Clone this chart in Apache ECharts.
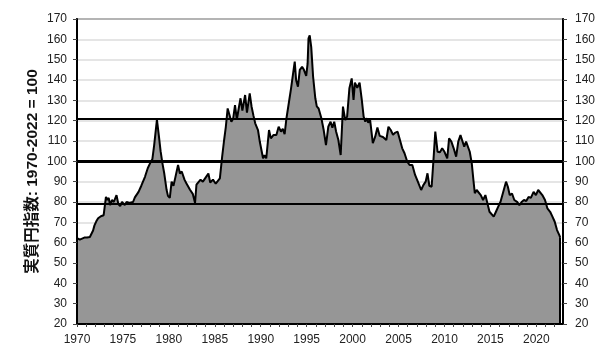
<!DOCTYPE html>
<html>
<head>
<meta charset="utf-8">
<script src="https://cdn.jsdelivr.net/npm/echarts@6/dist/echarts.min.js"></script>
<style>
html,body{margin:0;padding:0;background:#fff;}
#c{width:612px;height:359px;}
</style>
</head>
<body>
<div id="c"></div>
<script>
// decimal years
const years = [
1970.0,1970.3,1970.5,1970.8,1971.1,1971.4,1971.6,1971.75,1971.9,1972.1,1972.3,1972.6,1972.9,1973.05,1973.15,1973.3,1973.45,1973.6,1973.8,1974.0,
1974.3,1974.5,1974.7,1974.9,1975.2,1975.4,1975.7,1975.9,1976.1,1976.3,1976.7,1977.0,1977.4,1977.7,1978.0,1978.2,1978.4,1978.7,1978.9,1979.1,
1979.3,1979.5,1979.75,1979.9,1980.1,1980.3,1980.5,1980.7,1981.0,1981.2,1981.4,1981.7,1981.9,1982.1,1982.3,1982.6,1982.85,1983.0,1983.2,1983.45,
1983.7,1984.0,1984.3,1984.5,1984.8,1985.1,1985.3,1985.55,1985.8,1986.0,1986.2,1986.4,1986.6,1986.8,1987.0,1987.2,1987.4,1987.6,1987.8,1988.0,
1988.3,1988.5,1988.8,1989.0,1989.2,1989.4,1989.7,1989.9,1990.25,1990.4,1990.6,1990.9,1991.1,1991.4,1991.7,1991.95,1992.2,1992.4,1992.6,1992.8,
1993.0,1993.3,1993.5,1993.7,1993.85,1994.05,1994.25,1994.5,1994.7,1994.95,1995.1,1995.2,1995.33,1995.5,1995.7,1995.94,1996.1,1996.3,1996.6,1996.85,
1997.1,1997.35,1997.6,1997.8,1998.0,1998.2,1998.45,1998.7,1998.95,1999.2,1999.4,1999.65,1999.9,2000.1,2000.25,2000.5,2000.76,2001.0,2001.2,2001.38,
2001.55,2001.7,2001.9,2002.2,2002.45,2002.7,2002.95,2003.3,2003.67,2003.9,2004.15,2004.4,2004.6,2004.9,2005.1,2005.4,2005.65,2005.95,2006.2,2006.5,
2006.8,2007.1,2007.46,2007.7,2007.95,2008.15,2008.35,2008.6,2008.8,2009.0,2009.25,2009.5,2009.75,2010.0,2010.3,2010.5,2010.75,2011.0,2011.27,2011.5,
2011.74,2011.95,2012.15,2012.35,2012.55,2012.75,2012.97,2013.15,2013.3,2013.5,2013.7,2013.95,2014.2,2014.45,2014.65,2014.9,2015.1,2015.36,2015.6,2015.85,
2016.1,2016.4,2016.7,2016.9,2017.1,2017.35,2017.6,2017.9,2018.15,2018.4,2018.65,2018.9,2019.15,2019.4,2019.7,2019.95,2020.2,2020.4,2020.65,2020.94,
2021.2,2021.5,2021.75,2022.0,2022.25,2022.5,2022.6
];
// real yen index values
const values = [
62.3,61.5,61,62.5,62.5,62.8,63,66,68.5,70.5,72,73,73.5,74,82.5,81,82,78.5,81,80,
83.4,79,78,80,78.5,80,79.5,80,80,82.3,85,88,92.4,96.6,99.5,101,108,120.5,113,105,
99,94,86,83,82,90,88,92,98.2,94,95,91,89.2,90,86,84,79.5,88.5,88,91,
90,92,94,89.6,91,89,88.5,91.6,102.3,110,117,126,126.8,119.5,121,127.7,120.5,126,131,125,
132.6,124,133.4,127,122.6,118.7,115.4,109.6,101.5,103,101.5,115.4,111.3,113,113,117,114.6,116,113.4,121.2,
122,135.9,142.5,149,140,136.7,145,146.5,145,142,148,160.5,162,156,141.6,131,127,126,121.2,115.4,
108,117,119.5,116.6,119.5,114.7,110.5,103.1,126.9,120.3,122,135.9,140.8,130.2,138.7,136.2,138.7,130.2,122,119.5,
121.2,119,120.5,108.9,112,116.6,112.5,112,110.5,117,115.4,113,114,114.6,111.3,106.4,104,99.8,98.2,98.2,
93.3,90,85.9,88.3,90,94.1,88,87.5,100.6,114.6,104.7,104.5,106.4,104.7,101.5,111.3,109.7,106.4,102.3,109.7,
112.9,112.5,107.2,109.7,109.5,104.7,99,90.8,84.3,85.9,85,83.4,81,83.4,82.5,75.2,75.2,72.8,75.2,77.7,
80.1,85,90,87.5,83.4,84.2,81,80.1,78.5,80,81,80.5,82.5,82,85,83.4,85.9,85.5,83.4,81,
76.9,75.2,72.8,70.3,66.2,63.7,62.5
];
const refLines = [121, 100, 79];
const yTicks = [20,30,40,50,60,70,80,90,100,110,120,130,140,150,160,170];
const xLabelYears = [1970,1975,1980,1985,1990,1995,2000,2005,2010,2015,2020];
const yTitle = '実質円指数: 1970-2022 = 100';

const seriesData = years.map((y, i) => [y, values[i]]);
const lastX = years[years.length - 1];
const lastV = values[values.length - 1];
const yMin = yTicks[0], yMax = yTicks[yTicks.length - 1];

const FONT = '"Liberation Sans", Arial, "Noto Sans CJK JP", sans-serif';
const labelStyle = { color: '#222', fontSize: 12, fontFamily: FONT };

const chart = echarts.init(document.getElementById('c'), null, { renderer: 'canvas' });
chart.setOption({
  animation: false,
  backgroundColor: '#fff',
  grid: { left: 77, right: 49, top: 19, bottom: 35, show: true, borderColor: '#000', borderWidth: 1.5, backgroundColor: 'transparent' },
  xAxis: {
    type: 'value', min: 1970, max: 2022.9, interval: 1,
    axisLine: { show: true, lineStyle: { color: '#000', width: 2 } },
    axisTick: { show: true, length: 3, lineStyle: { color: '#444', width: 1 } },
    axisLabel: Object.assign({ margin: 10, showMaxLabel: false,
      formatter: v => xLabelYears.indexOf(Math.round(v)) >= 0 && Math.abs(v - Math.round(v)) < 1e-6 ? String(Math.round(v)) : '' }, labelStyle),
    splitLine: { show: false },
    z: 5
  },
  yAxis: [
    {
      type: 'value', min: yMin, max: yMax, interval: 10, position: 'left',
      name: yTitle, nameLocation: 'middle', nameGap: 37, nameRotate: 90, nameMoveOverlap: false,
      nameTextStyle: { fontSize: 15.5, fontWeight: 'bold', color: '#111', fontFamily: '"Liberation Sans", "Noto Sans CJK JP", sans-serif' },
      axisLine: { show: true, lineStyle: { color: '#000', width: 2 } },
      axisTick: { show: true, length: 4, lineStyle: { color: '#444' } },
      axisLabel: Object.assign({ margin: 10 }, labelStyle),
      splitLine: { show: false },
      z: 5
    },
    {
      type: 'value', min: yMin, max: yMax, interval: 10, position: 'right',
      axisLine: { show: true, lineStyle: { color: '#000', width: 2 } },
      axisTick: { show: true, length: 4, lineStyle: { color: '#444' } },
      axisLabel: Object.assign({ margin: 12 }, labelStyle),
      splitLine: { show: false },
      z: 5
    },
    {
      type: 'value', min: yMin, max: yMax, interval: 10, position: 'left',
      axisLine: { show: false }, axisTick: { show: false }, axisLabel: { show: false },
      splitLine: { show: true, lineStyle: { color: '#dcdcdc', width: 1.5 } },
      z: 0
    }
  ],
  series: [
    {
      type: 'line',
      data: seriesData,
      xAxisIndex: 0, yAxisIndex: 0,
      showSymbol: false,
      symbol: 'none',
      lineStyle: { color: '#000', width: 2 },
      areaStyle: { color: '#969696', opacity: 1, origin: 'start' },
      z: 2,
      markLine: {
        silent: true, symbol: 'none', label: { show: false },
        data: refLines.map(v => ({ yAxis: v, lineStyle: { color: '#000', width: v === 100 ? 3 : 2, type: 'solid' } }))
          .concat([[{ coord: [lastX, yMin], lineStyle: { color: '#000', width: 2, type: 'solid' } }, { coord: [lastX, lastV] }]])
      }
    }
  ]
});
</script>
</body>
</html>
